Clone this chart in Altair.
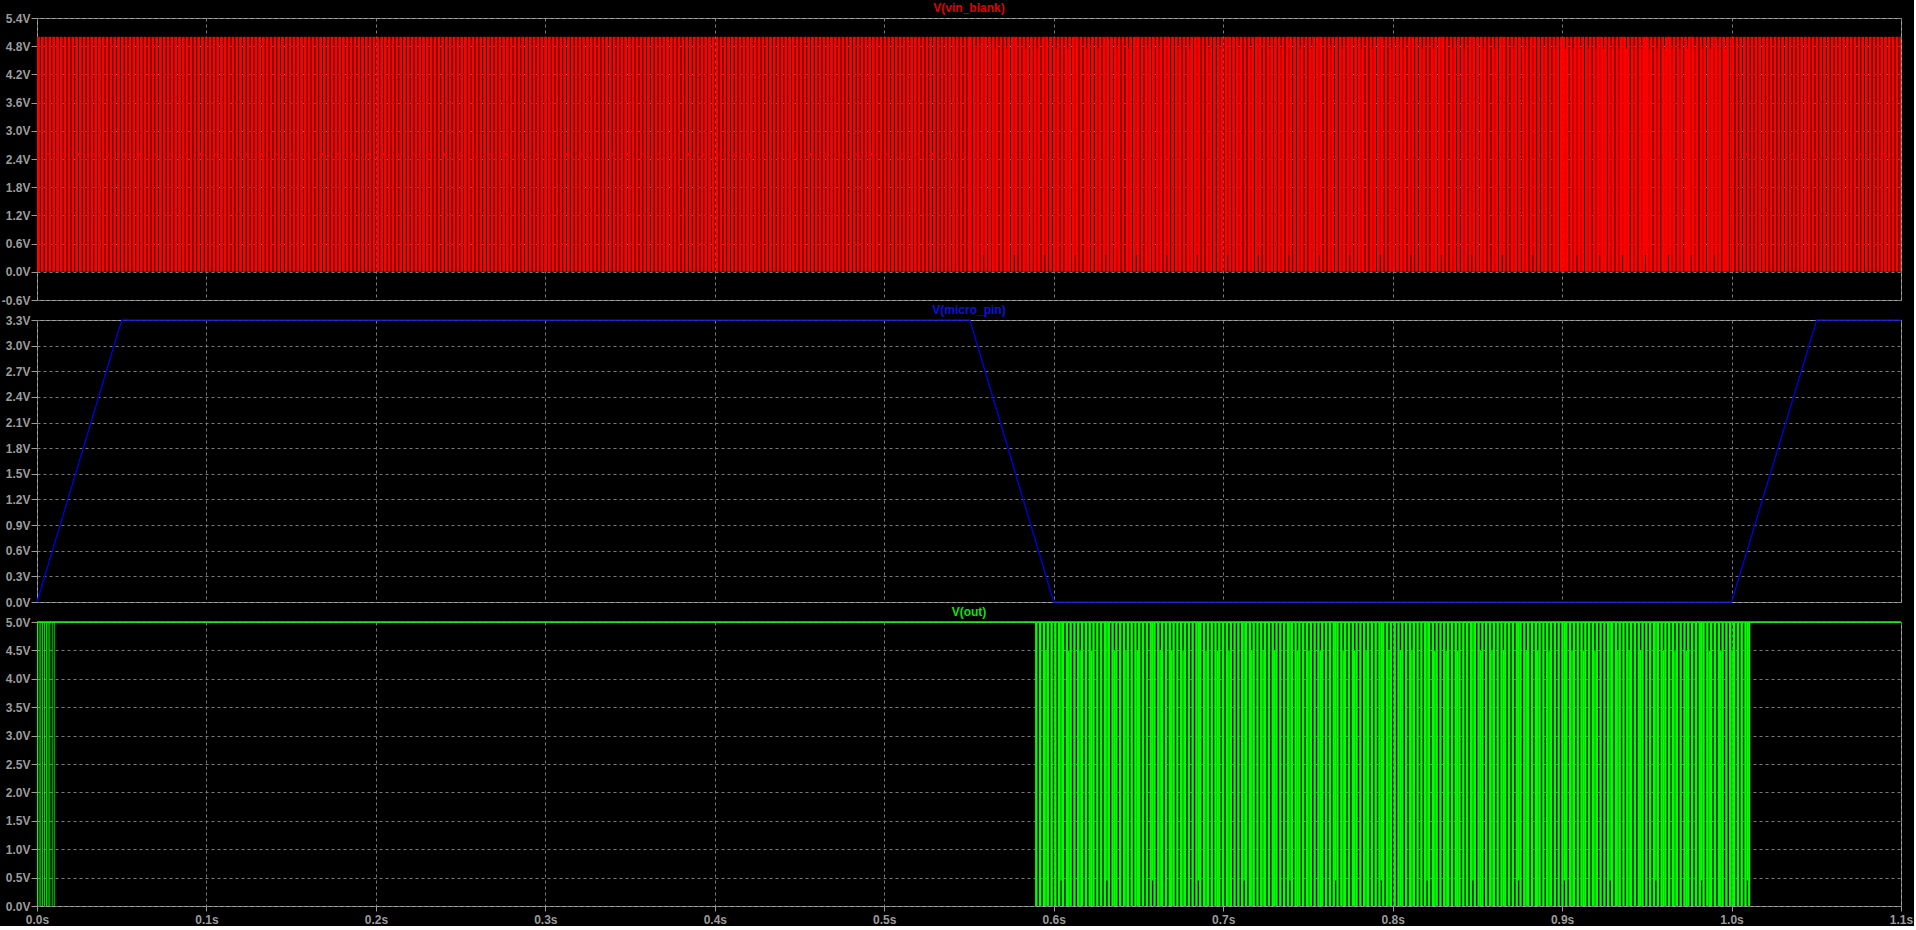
import altair as alt
import pandas as pd

# ---------------- data ----------------
T_END = 1.1
x_ticks = [0.0, 0.1, 0.2, 0.3, 0.4, 0.5, 0.6, 0.7, 0.8, 0.9, 1.0, 1.1]

vin_ticks = [-0.6, 0.0, 0.6, 1.2, 1.8, 2.4, 3.0, 3.6, 4.2, 4.8, 5.4]
pin_ticks = [0.0, 0.3, 0.6, 0.9, 1.2, 1.5, 1.8, 2.1, 2.4, 2.7, 3.0, 3.3]
out_ticks = [0.0, 0.5, 1.0, 1.5, 2.0, 2.5, 3.0, 3.5, 4.0, 4.5, 5.0]

# V(micro_pin): piecewise-linear breakpoints
pin_t = [0.0, 0.05, 0.5505, 0.6, 1.0, 1.0503, 1.1]
pin_v = [0.0, 3.3, 3.3, 0.0, 0.0, 3.3, 3.3]

# V(vin_blank): pulse train (0 V / 5 V) read as gap spacing, gap width and gap kinds
vin_levels = [0.0, 5.0]
vin_period = 0.00225
vin_gap = 0.00055
vin_seg_start = [0.0, 0.55, 0.90, 1.0]
vin_seg_end = [0.55, 0.90, 1.0, 1.1]
vin_seg_pattern = ["FFMFFFMF", "FSFBFFSF", "SFSBSF", "FFFMFF"]
# gap kinds: F dark full height, S dip from top to 4.75 V, B dip at bottom to 0.35 V, M step at 2.5 V
vin_gap_kind = ["S", "B", "M"]
vin_gap_lo = [0.0, 0.35, 2.47]
vin_gap_hi = [4.75, 5.0, 2.53]

# V(out): short burst at start, idle 5 V, then pulse train
out_levels = [0.0, 5.0]
out_burst_t = [0.0, 0.001, 0.002, 0.003, 0.0042, 0.0054, 0.0063, 0.0073, 0.0087, 0.0099]
out_burst_w = 0.0005
out_period = 0.00225
out_gap = 0.0008
out_seg_start = [0.589]
out_seg_end = [1.011]
out_seg_pattern = ["FFSFFFLFSFFS"]
out_gap_kind = ["S", "L"]
out_gap_lo = [0.0, 0.45]
out_gap_hi = [4.5, 5.0]
out_idle_t = [0.0, 1.1]
out_idle_v = 5.0

titles = ["V(vin_blank)", "V(micro_pin)", "V(out)"]
title_colors = ["#e00000", "#1010e0", "#10e010"]
trace_colors = ["#ff0000", "#0000dd", "#00ff00"]


# ---------------- build tables ----------------
def pulse_rects(starts, ends, patterns, period, gap, levels, kinds, los, his):
    hi_rows, part_rows = [], []
    for s, e, pat in zip(starts, ends, patterns):
        k = 0
        t = s
        while t < e - 1e-9:
            t_hi_end = min(t + period - gap, e)
            hi_rows.append({"t0": t, "t1": t_hi_end, "v0": levels[0], "v1": levels[1]})
            g = pat[k % len(pat)]
            if g in kinds and t_hi_end < e:
                i = kinds.index(g)
                part_rows.append({"t0": t_hi_end, "t1": min(t + period, e),
                                  "v0": los[i], "v1": his[i]})
            k += 1
            t = s + k * period
    return pd.DataFrame(hi_rows), pd.DataFrame(part_rows)


vin_hi, vin_part = pulse_rects(vin_seg_start, vin_seg_end, vin_seg_pattern, vin_period,
                               vin_gap, vin_levels, vin_gap_kind, vin_gap_lo, vin_gap_hi)
out_hi, out_part = pulse_rects(out_seg_start, out_seg_end, out_seg_pattern, out_period,
                               out_gap, out_levels, out_gap_kind, out_gap_lo, out_gap_hi)
out_burst = pd.DataFrame({"t0": out_burst_t,
                          "t1": [t + out_burst_w for t in out_burst_t],
                          "v0": [out_levels[0]] * len(out_burst_t),
                          "v1": [out_levels[1]] * len(out_burst_t)})
out_all = pd.concat([out_hi, out_burst], ignore_index=True)
out_idle = pd.DataFrame({"t0": [out_idle_t[0]], "t1": [out_idle_t[1]], "v0": [out_idle_v]})
pin_df = pd.DataFrame({"t": pin_t, "v": pin_v})

# ---------------- styling ----------------
W = 1864
GRID = "#7a7a7a"
LABEL = "#9c9c9c"
FONT = "Liberation Sans"

xscale = alt.Scale(domain=[0, T_END], nice=False, zero=False)


def xaxis(show):
    common = dict(values=x_ticks, grid=True, gridDash=[3, 3], gridColor=GRID, gridWidth=1,
                  domain=False, title=None)
    if show:
        return alt.Axis(labels=True, ticks=True, tickSize=5, tickColor=LABEL, labelPadding=3,
                        labelFlush=False, labelOverlap=False,
                        labelExpr="format(datum.value, '.1f') + 's'", **common)
    return alt.Axis(labels=False, ticks=False, **common)


def yaxis(ticks):
    return alt.Axis(values=ticks, grid=True, gridDash=[3, 3], gridColor=GRID, gridWidth=1,
                    domain=False, title=None, tickSize=6, tickColor=LABEL, labelPadding=1,
                    labelFlush=False, labelOverlap=False,
                    labelExpr="(datum.value < 0 ? '-' : '') + format(abs(datum.value), '.1f') + 'V'")


def title_layer(i):
    return alt.Chart(pd.DataFrame({"label": [titles[i]]})).mark_text(
        font=FONT, fontSize=12, fontWeight="bold", color=title_colors[i],
        align="center", baseline="middle"
    ).encode(text="label:N", x=alt.value(W / 2), y=alt.value(-10))


def rect_layer(df, ydom, yt, color, show_x):
    return alt.Chart(df).mark_rect(color=color, strokeWidth=0, clip=True).encode(
        x=alt.X("t0:Q", scale=xscale, axis=xaxis(show_x)),
        x2="t1:Q",
        y=alt.Y("v0:Q", scale=alt.Scale(domain=ydom, nice=False, zero=False), axis=yaxis(yt)),
        y2="v1:Q",
    )


# panel 1: V(vin_blank)
vin_dom = [-0.6, 5.4]
p1 = alt.layer(
    rect_layer(vin_hi, vin_dom, vin_ticks, trace_colors[0], False),
    rect_layer(vin_part, vin_dom, vin_ticks, trace_colors[0], False),
    title_layer(0),
).properties(width=W, height=282)

# panel 2: V(micro_pin)
pin_dom = [0.0, 3.3]
p2 = alt.layer(
    alt.Chart(pin_df).mark_line(color=trace_colors[1], strokeWidth=1.3, clip=False).encode(
        x=alt.X("t:Q", scale=xscale, axis=xaxis(False)),
        y=alt.Y("v:Q", scale=alt.Scale(domain=pin_dom, nice=False, zero=False), axis=yaxis(pin_ticks)),
    ),
    title_layer(1),
).properties(width=W, height=282)

# panel 3: V(out)
out_dom = [0.0, 5.0]
p3 = alt.layer(
    rect_layer(out_all, out_dom, out_ticks, trace_colors[2], True),
    rect_layer(out_part, out_dom, out_ticks, trace_colors[2], True),
    alt.Chart(out_idle).mark_rule(color=trace_colors[2], strokeWidth=1.5).encode(
        x=alt.X("t0:Q", scale=xscale, axis=xaxis(True)),
        x2="t1:Q",
        y=alt.Y("v0:Q", scale=alt.Scale(domain=out_dom, nice=False, zero=False), axis=yaxis(out_ticks)),
    ),
    title_layer(2),
).properties(width=W, height=284)

chart = alt.vconcat(p1, p2, p3, spacing=20, bounds="flush").properties(
    padding={"left": 0, "top": 1, "right": 0, "bottom": 0}
).configure(background="#000000").configure_view(
    stroke="#a8a8a8", strokeWidth=1, fill="#000000"
).configure_axis(
    labelFont=FONT, labelFontSize=12, labelFontWeight="bold", labelColor=LABEL
)

chart.save("out.html", embed_options={"renderer": "svg", "actions": False})
